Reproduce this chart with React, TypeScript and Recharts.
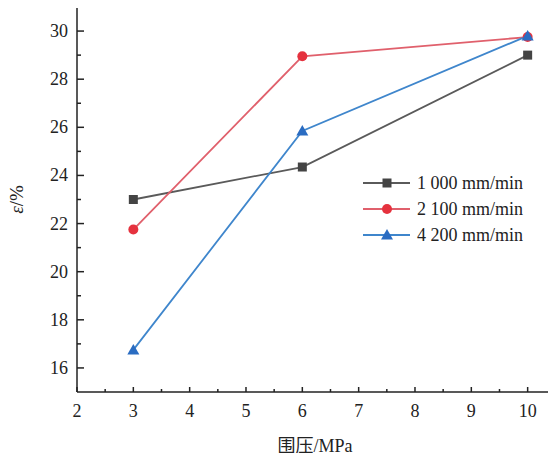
import React from 'react';
import { LineChart, Line, XAxis, YAxis } from 'recharts';

// confining pressure (MPa) and strain ε (%) for each loading rate
const pressure = [3, 6, 10];
const rate1000 = [23.0, 24.35, 29.0];
const rate2100 = [21.75, 28.95, 29.75];
const rate4200 = [16.75, 25.85, 29.8];
const seriesNames = ['1 000 mm/min', '2 100 mm/min', '4 200 mm/min'];

const xTicks = [2, 2.5, 3, 3.5, 4, 4.5, 5, 5.5, 6, 6.5, 7, 7.5, 8, 8.5, 9, 9.5, 10];
const yTicks = [16, 17, 18, 19, 20, 21, 22, 23, 24, 25, 26, 27, 28, 29, 30];

const data = pressure.map((p, i) => ({
  p,
  r1000: rate1000[i],
  r2100: rate2100[i],
  r4200: rate4200[i],
}));

const FONT = 'Liberation Serif, DejaVu Serif, Noto Sans CJK SC, serif';
const AXIS = '#222';
const textStyle = { fontFamily: FONT };

type Shape = 'square' | 'circle' | 'triangle';

const series: { key: string; name: string; line: string; fill: string; shape: Shape }[] = [
  { key: 'r1000', name: seriesNames[0], line: '#5a5a5a', fill: '#444', shape: 'square' },
  { key: 'r2100', name: seriesNames[1], line: '#e0606c', fill: '#e5323e', shape: 'circle' },
  { key: 'r4200', name: seriesNames[2], line: '#3f86cc', fill: '#2a6cc2', shape: 'triangle' },
];

function Marker({ cx, cy, shape, fill }: { cx: number; cy: number; shape: Shape; fill: string }) {
  if (shape === 'square') return <rect x={cx - 4.5} y={cy - 4.5} width={9} height={9} fill={fill} />;
  if (shape === 'circle') return <circle cx={cx} cy={cy} r={5} fill={fill} />;
  return <polygon points={`${cx},${cy - 6} ${cx + 6},${cy + 4.5} ${cx - 6},${cy + 4.5}`} fill={fill} />;
}

function XTick({ x, y, payload }: any) {
  const major = Number.isInteger(payload.value);
  return (
    <g>
      <line x1={x} y1={y} x2={x} y2={y - (major ? 5 : 3)} stroke={AXIS} strokeWidth={1.5} />
      {major && (
        <text x={x} y={y + 25} textAnchor="middle" fontSize={18} style={textStyle} fill="#222">
          {payload.value}
        </text>
      )}
    </g>
  );
}

function YTick({ x, y, payload }: any) {
  const major = payload.value % 2 === 0;
  return (
    <g>
      <line x1={x} y1={y} x2={x + (major ? 7 : 4)} y2={y} stroke={AXIS} strokeWidth={1.5} />
      {major && (
        <text x={x - 9} y={y + 6} textAnchor="end" fontSize={18} style={textStyle} fill="#222">
          {payload.value}
        </text>
      )}
    </g>
  );
}

// axis titles drawn at the middle of each axis
function XTitle({ viewBox }: any) {
  return (
    <text x={viewBox.x + viewBox.width / 2} y={viewBox.y + 60} textAnchor="middle" fontSize={18} style={textStyle} fill="#222">
      围压/MPa
    </text>
  );
}

function YTitle({ viewBox }: any) {
  const cx = viewBox.x + 16;
  const cy = viewBox.y + viewBox.height / 2;
  return (
    <text x={cx} y={cy} transform={`rotate(-90 ${cx} ${cy})`} textAnchor="middle" dominantBaseline="central" fontSize={19} style={textStyle} fill="#222">
      <tspan fontStyle="italic">ε</tspan>/%
    </text>
  );
}

// legend panel, placed over the plot area on the right
function LegendBox() {
  return (
    <svg width={190} height={80} style={{ position: 'absolute', left: 360, top: 170 }}>
      {series.map((s, i) => {
        const cy = 13 + i * 26;
        return (
          <g key={s.key}>
            <line x1={3} y1={cy} x2={50} y2={cy} stroke={s.line} strokeWidth={1.8} />
            <Marker cx={27} cy={cy} shape={s.shape} fill={s.fill} />
            <text x={57} y={cy + 6} fontSize={18} style={textStyle} fill="#222">
              {s.name}
            </text>
          </g>
        );
      })}
    </svg>
  );
}

export default function App() {
  return (
    <div style={{ margin: -8, width: 556, height: 461, background: '#fff', position: 'relative' }}>
      <LineChart width={556} height={461} data={data} margin={{ top: 7, right: 3, bottom: 0, left: 0 }}>
        <XAxis
          dataKey="p"
          type="number"
          domain={[2, 10.45]}
          ticks={xTicks}
          interval={0}
          tickSize={0}
          tickMargin={0}
          tickLine={false}
          tick={<XTick />}
          height={69}
          axisLine={{ stroke: AXIS, strokeWidth: 1.5 }}
          label={<XTitle />}
        />
        <XAxis xAxisId="top" dataKey="p" type="number" domain={[2, 10.45]} orientation="top" height={0} tick={false} tickLine={false} axisLine={{ stroke: '#555', strokeWidth: 1.5 }} />
        <YAxis
          type="number"
          domain={[15, 31]}
          ticks={yTicks}
          interval={0}
          tickSize={0}
          tickMargin={0}
          tickLine={false}
          tick={<YTick />}
          width={77}
          axisLine={{ stroke: AXIS, strokeWidth: 1.5 }}
          label={<YTitle />}
        />
        <YAxis yAxisId="right" orientation="right" domain={[15, 31]} width={0} tick={false} tickLine={false} axisLine={{ stroke: '#555', strokeWidth: 1.5 }} />
        {series.map((s) => (
          <Line
            key={s.key}
            dataKey={s.key}
            name={s.name}
            stroke={s.line}
            strokeWidth={1.8}
            isAnimationActive={false}
            dot={(props: any) => <Marker key={`${s.key}-${props.index}`} cx={props.cx} cy={props.cy} shape={s.shape} fill={s.fill} />}
            activeDot={false}
          />
        ))}
      </LineChart>
      <LegendBox />
    </div>
  );
}
